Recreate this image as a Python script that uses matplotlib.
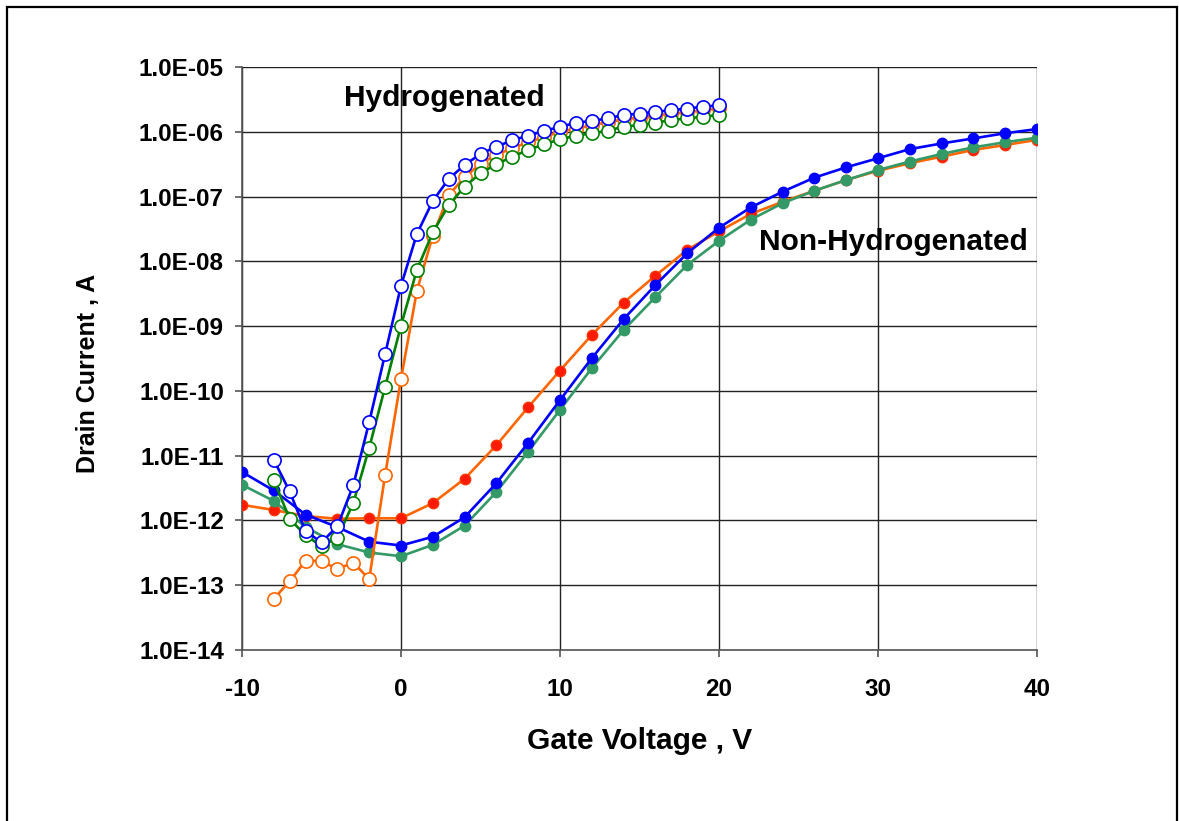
import numpy as np
import matplotlib
matplotlib.use('Agg')
import matplotlib.pyplot as plt
import matplotlib.patches as patches
from matplotlib.ticker import FixedLocator, FuncFormatter, NullLocator

plt.rcParams['font.family'] = ['Liberation Sans', 'DejaVu Sans']
plt.rcParams['font.weight'] = 'bold'
plt.rcParams['axes.unicode_minus'] = False

# Hydrogenated (open markers), gate voltage -8..20 V in 1 V steps
vg_h = list(range(-8, 21))
blue_h = [8.6e-12, 2.8e-12, 6.8e-13, 4.6e-13, 8.1e-13, 3.5e-12, 3.3e-11, 3.7e-10,
          4.2e-9, 2.65e-8, 8.55e-8, 1.87e-7, 3.08e-7, 4.54e-7, 5.89e-7, 7.4e-7,
          8.7e-7, 1.03e-6, 1.19e-6, 1.38e-6, 1.47e-6, 1.61e-6, 1.82e-6, 1.90e-6,
          2.04e-6, 2.15e-6, 2.28e-6, 2.44e-6, 2.56e-6]
green_h = [4.2e-12, 1.05e-12, 5.9e-13, 4.0e-13, 5.4e-13, 1.86e-12, 1.32e-11, 1.15e-10,
           1.02e-9, 7.4e-9, 2.8e-8, 7.4e-8, 1.42e-7, 2.29e-7, 3.16e-7, 4.13e-7,
           5.24e-7, 6.41e-7, 7.66e-7, 8.7e-7, 9.48e-7, 1.04e-6, 1.20e-6, 1.27e-6,
           1.38e-6, 1.52e-6, 1.61e-6, 1.71e-6, 1.82e-6]
orange_h = [6.2e-14, 1.15e-13, 2.4e-13, 2.35e-13, 1.78e-13, 2.24e-13, 1.24e-13, 5.0e-12,
            1.53e-10, 3.5e-9, 2.5e-8, 1.05e-7, 2.0e-7, 3.2e-7, 4.4e-7, 5.6e-7,
            6.9e-7, 8.3e-7, 1.0e-6, 1.12e-6, 1.26e-6, 1.41e-6, 1.55e-6, 1.66e-6,
            1.78e-6, 1.9e-6, 2.0e-6, 2.14e-6, 2.29e-6]

# Non-hydrogenated (filled markers), gate voltage -10..40 V in 2 V steps
vg_nh = list(range(-10, 41, 2))
blue_nh = [5.6e-12, 2.9e-12, 1.23e-12, 7.9e-13, 4.7e-13, 4.1e-13, 5.6e-13, 1.12e-12,
           3.76e-12, 1.58e-11, 7.2e-11, 3.2e-10, 1.28e-9, 4.3e-9, 1.33e-8, 3.3e-8,
           6.8e-8, 1.19e-7, 1.96e-7, 2.83e-7, 3.9e-7, 5.4e-7, 6.6e-7, 7.9e-7,
           9.5e-7, 1.1e-6]
orange_nh = [1.74e-12, 1.45e-12, 1.17e-12, 1.06e-12, 1.08e-12, 1.08e-12, 1.85e-12, 4.4e-12,
             1.45e-11, 5.6e-11, 2.06e-10, 7.3e-10, 2.3e-9, 6.0e-9, 1.5e-8, 2.9e-8,
             5.4e-8, 8.3e-8, 1.23e-7, 1.8e-7, 2.5e-7, 3.27e-7, 4.13e-7, 5.25e-7,
             6.25e-7, 7.5e-7]
green_nh = [3.55e-12, 2.0e-12, 7.9e-13, 4.3e-13, 3.2e-13, 2.8e-13, 4.2e-13, 8.3e-13,
            2.75e-12, 1.15e-11, 5.1e-11, 2.24e-10, 8.7e-10, 2.8e-9, 8.8e-9, 2.07e-8,
            4.4e-8, 7.9e-8, 1.23e-7, 1.8e-7, 2.57e-7, 3.47e-7, 4.54e-7, 5.75e-7,
            6.9e-7, 8.1e-7]

y_ticks = [1e-14, 1e-13, 1e-12, 1e-11, 1e-10, 1e-9, 1e-8, 1e-7, 1e-6, 1e-5]
x_ticks = [-10, 0, 10, 20, 30, 40]

fig = plt.figure(figsize=(11.79, 8.21), dpi=100)
ax = fig.add_axes([242 / 1179, 1 - 650 / 821, (1037 - 242) / 1179, (650 - 67) / 821])

# outer frame of the chart area
frame = patches.Rectangle((7 / 1179, -0.05), 1170 / 1179, 1.05 - 7 / 821,
                          transform=fig.transFigure, fill=False,
                          edgecolor='black', linewidth=1.6, zorder=0)
fig.patches.append(frame)

lw = 1.9
ms_f = 7.5
ms_o = 9.5

# non-hydrogenated
ax.plot(vg_nh, orange_nh, '-o', color='#FF6600', lw=lw, ms=ms_f,
        markerfacecolor='#FF1A00', markeredgecolor='#FF3300', zorder=3)
ax.plot(vg_nh, green_nh, '-o', color='#339966', lw=lw, ms=ms_f,
        markerfacecolor='#339966', markeredgecolor='#339966', zorder=4)
ax.plot(vg_nh, blue_nh, '-o', color='#0000FF', lw=lw, ms=ms_f,
        markerfacecolor='#0000FF', markeredgecolor='#0000FF', zorder=5)

# hydrogenated
ax.plot(vg_h, orange_h, '-o', color='#FF6600', lw=lw, ms=ms_o,
        markerfacecolor='white', markeredgecolor='#FF6600', markeredgewidth=1.2, zorder=6)
ax.plot(vg_h, green_h, '-o', color='#008000', lw=lw, ms=ms_o,
        markerfacecolor='white', markeredgecolor='#008000', markeredgewidth=1.2, zorder=7)
ax.plot(vg_h, blue_h, '-o', color='#0000FF', lw=lw, ms=ms_o,
        markerfacecolor='white', markeredgecolor='#0000FF', markeredgewidth=1.2, zorder=8)

ax.set_yscale('log')
ax.set_xlim(-10, 40)
ax.set_ylim(1e-14, 1e-5)
ax.yaxis.set_major_locator(FixedLocator(y_ticks))
ax.yaxis.set_minor_locator(NullLocator())
ax.yaxis.set_major_formatter(FuncFormatter(
    lambda v, p: '1.0E%+03d' % int(round(np.log10(v)))))
ax.xaxis.set_major_locator(FixedLocator(x_ticks))

ax.grid(True, which='major', color='#222222', linewidth=1.0)
ax.set_axisbelow(True)
for s in ['top', 'right']:
    ax.spines[s].set_visible(False)
for s in ['left', 'bottom']:
    ax.spines[s].set_color('#555555')
    ax.spines[s].set_linewidth(1.2)

ax.tick_params(axis='both', direction='out', length=5, width=1.2, color='#555555',
               labelsize=17.5)
ax.tick_params(axis='y', pad=8)
ax.tick_params(axis='x', pad=15)
for lab in ax.get_xticklabels() + ax.get_yticklabels():
    lab.set_fontweight('bold')

ax.set_xlabel('Gate Voltage , V', fontsize=21.5, fontweight='bold', labelpad=19)
ax.set_ylabel('Drain Current , A', fontsize=18, fontweight='bold')
ax.yaxis.set_label_coords(-0.178, 0.475)

ax.text(2.7, 10 ** -5.478, 'Hydrogenated', fontsize=21.5, fontweight='bold',
        ha='center', va='center')
ax.text(30.94, 10 ** -7.70, 'Non-Hydrogenated', fontsize=21.5, fontweight='bold',
        ha='center', va='center')

fig.savefig('out.png', dpi=100)
